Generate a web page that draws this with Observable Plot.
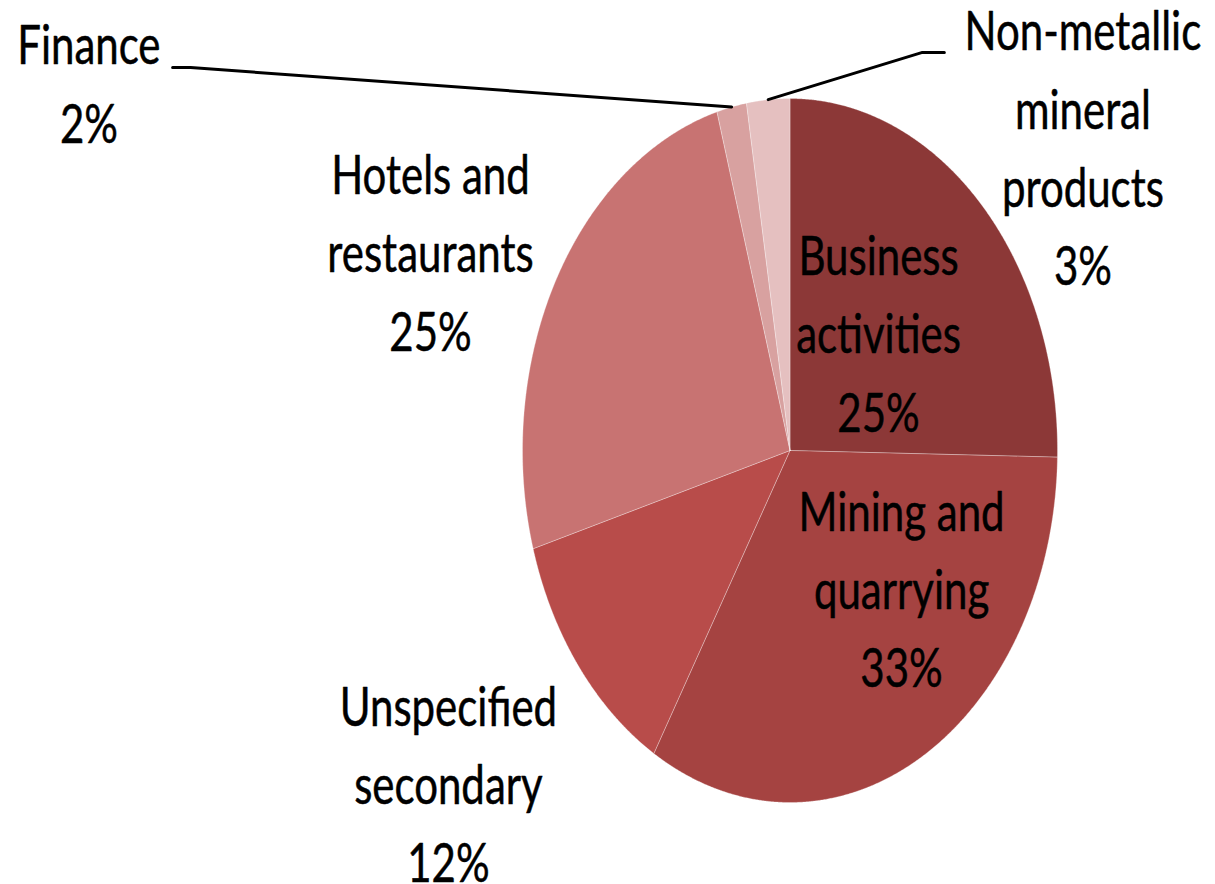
<!DOCTYPE html>
<html><head><meta charset="utf-8">
<script src="https://cdn.jsdelivr.net/npm/d3@7"></script>
<script src="https://cdn.jsdelivr.net/npm/@observablehq/plot@0.6"></script>
<style>html,body{margin:0;padding:0;background:#fff;}</style>
</head><body><div id="chart"></div>
<script>
// ---- data ----
const categories = ["Business activities", "Mining and quarrying", "Unspecified secondary", "Hotels and restaurants", "Finance", "Non-metallic mineral products"];
const shares = [25.3, 33.2, 12.0, 25.1, 1.8, 2.6];
const labelNames = ["Business\nactivities", "Mining and\nquarrying", "Unspecified\nsecondary", "Hotels and\nrestaurants", "Finance", "Non-metallic\nmineral\nproducts"];
const colors = ["#8c3837", "#a54341", "#b84c4a", "#c87372", "#d8a1a0", "#e5c0c0"];
// ---- layout (pie-unit coordinates: radius = 1) ----
const labelAnchors = [[0.331, 0.324], [0.417, -0.403], [-1.277, -0.955], [-1.344, 0.554], [-2.621, 1.034], [1.095, 0.852]];
const leaderBends = {"Finance": [[-2.241, 1.088], [-2.308, 1.088]], "Non-metallic mineral products": [[0.495, 1.131], [0.577, 1.131]]};
const FONT_SIZE = 42, SX = 1.0, SY = 1.3;

const rows = categories.map((c, i) => ({cat: c, share: shares[i], name: labelNames[i]}));
const arcs = d3.pie().sort(null).value(d => d.share).startAngle(0).endAngle(2 * Math.PI)(rows);

const slicePts = arcs.flatMap(p => {
  const cat = p.data.cat;
  const pts = [{cat, x: 0, y: 0}];
  const n = Math.max(2, Math.ceil((p.endAngle - p.startAngle) / 0.004));
  for (let i = 0; i <= n; i++) {
    const a = p.startAngle + (p.endAngle - p.startAngle) * i / n;
    pts.push({cat, x: Math.sin(a), y: Math.cos(a)});
  }
  pts.push({cat, x: 0, y: 0});
  return pts;
});

const labels = arcs.map((p, i) => ({
  cat: p.data.cat,
  x: labelAnchors[i][0],
  y: labelAnchors[i][1],
  text: p.data.name + "\n" + Math.round(p.data.share) + "%"
}));

const leaderPts = arcs.filter(p => leaderBends[p.data.cat]).flatMap(p => {
  const m = (p.startAngle + p.endAngle) / 2;
  const cat = p.data.cat;
  return [{cat, x: Math.sin(m), y: Math.cos(m)}, ...leaderBends[cat].map(([x, y]) => ({cat, x, y}))];
});

const chart = Plot.plot({
  width: 1215,
  height: 884,
  marginLeft: 522,
  marginRight: 158,
  marginTop: 98,
  marginBottom: 82,
  x: {domain: [-1, 1], axis: null},
  y: {domain: [-1, 1], axis: null},
  color: {domain: categories, range: colors},
  style: {fontFamily: "Lato, 'Open Sans', sans-serif", background: "#fff", overflow: "visible"},
  marks: [
    Plot.line(slicePts, {x: "x", y: "y", z: "cat", fill: "cat", stroke: "#ffffff", strokeWidth: 0.6, strokeOpacity: 0.5, curve: "linear"}),
    Plot.line(leaderPts, {x: "x", y: "y", z: "cat", stroke: "#000", strokeWidth: 3, curve: "linear"}),
    Plot.text(labels, {x: "x", y: "y", dy: -8, text: "text", fontSize: FONT_SIZE, lineHeight: 1.43, textAnchor: "middle", lineAnchor: "middle", fill: "#000", stroke: "#000", strokeWidth: 0.4})
  ]
});

chart.querySelectorAll('g[aria-label="text"] text').forEach(t => {
  let tr = t.getAttribute("transform");
  if (!tr) {
    const x = t.getAttribute("x") || 0, y = t.getAttribute("y") || 0;
    t.removeAttribute("x"); t.removeAttribute("y");
    tr = `translate(${x},${y})`;
  }
  t.setAttribute("transform", tr + ` scale(${SX},${SY})`);
});

document.getElementById("chart").appendChild(chart);
</script>
</body></html>
